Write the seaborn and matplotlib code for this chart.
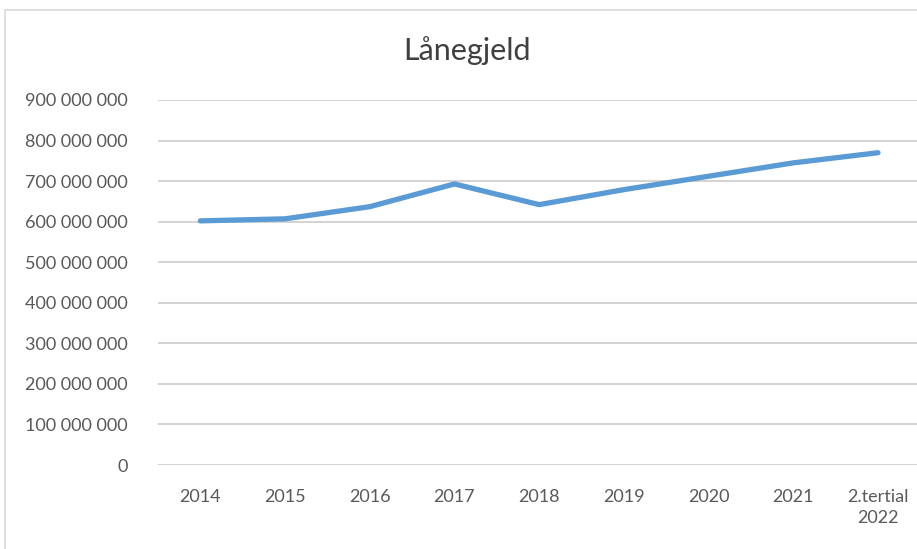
import matplotlib
matplotlib.use("Agg")
import matplotlib.pyplot as plt
import seaborn as sns
import pandas as pd
from matplotlib.ticker import FuncFormatter, MultipleLocator
from matplotlib.patches import Rectangle

categories = ["2014", "2015", "2016", "2017", "2018", "2019", "2020", "2021", "2.tertial\n2022"]
values = [602e6, 607e6, 637e6, 693e6, 642e6, 679e6, 712e6, 745e6, 770e6]
title = "Lånegjeld"

df = pd.DataFrame({"kat": categories, "verdi": values})

sns.set_theme(style="white")
plt.rcParams["font.family"] = ["Lato", "DejaVu Sans"]

W, H = 917, 549
fig = plt.figure(figsize=(W / 100, H / 100), dpi=100)
fig.patch.set_facecolor("white")

# chart border (cropped on right/bottom)
fig.patches.append(Rectangle((5 / W, -0.1), 1.2, 1 - 10 / H + 0.1, transform=fig.transFigure,
                             fill=False, edgecolor="#D9D9D9", linewidth=1.2, zorder=0))

ax = fig.add_axes([158 / W, (H - 465) / H, 1 - 158 / W, (465 - 100) / H])
sns.lineplot(data=df, x="kat", y="verdi", ax=ax, color="#5B9BD5", linewidth=3.8,
             sort=False, solid_capstyle="round", solid_joinstyle="round")

ax.set_ylim(0, 900e6)
ax.set_xlim(-0.5, 8.46)
ax.yaxis.set_major_locator(MultipleLocator(100e6))
ax.yaxis.set_major_formatter(FuncFormatter(lambda v, p: f"{int(round(v)):,}".replace(",", " ")))
ax.grid(axis="y", color="#D0D0D0", linewidth=1.3)
ax.grid(axis="x", visible=False)
ax.set_axisbelow(True)
for s in ax.spines.values():
    s.set_visible(False)
ax.set_xlabel("")
ax.set_ylabel("")
ax.tick_params(axis="y", length=0, pad=22, labelsize=13, labelcolor="#595959")
ax.tick_params(axis="x", length=0, pad=17, labelsize=13, labelcolor="#595959")
for lab in ax.get_xticklabels():
    lab.set_linespacing(1.45)

fig.text(467 / W, 1 - 51 / H, title, ha="center", va="center", fontsize=22, color="#404040")

fig.savefig("out.png", dpi=100)
